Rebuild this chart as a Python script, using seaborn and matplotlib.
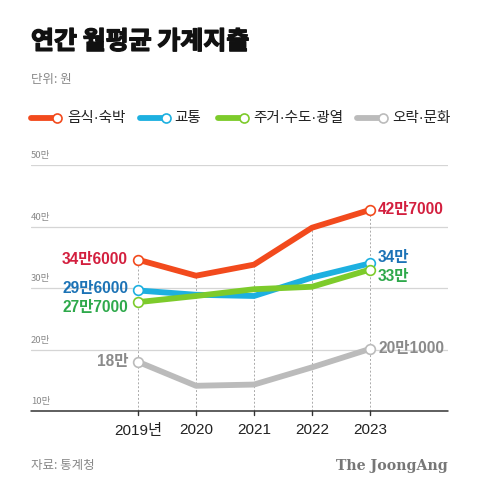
import matplotlib
matplotlib.use("Agg")
import matplotlib.pyplot as plt
from matplotlib.lines import Line2D
import matplotlib.patheffects as pe
import seaborn as sns
import pandas as pd

years = [2019, 2020, 2021, 2022, 2023]
year_labels = ["2019년", "2020", "2021", "2022", "2023"]
series_names = ["음식·숙박", "교통", "주거·수도·광열", "오락·문화"]
food = [34.6, 32.0, 33.8, 39.8, 42.7]
transport = [29.6, 28.9, 28.7, 31.7, 34.0]
housing = [27.7, 28.7, 29.8, 30.2, 33.0]
culture = [18.0, 14.1, 14.3, 17.1, 20.1]
start_labels = ["34만6000", "29만6000", "27만7000", "18만"]
end_labels = ["42만7000", "34만", "33만", "20만1000"]
ytick_vals = [10, 20, 30, 40, 50]
ytick_labels = ["10만", "20만", "30만", "40만", "50만"]

line_colors = ["#F24A1D", "#1DB0E0", "#7DCB2B", "#BBBBBB"]
text_colors = ["#D31F3E", "#1C73B6", "#2EA94B", "#8A8A8A"]

sns.set_theme(style="white")
plt.rcParams["font.family"] = ["Liberation Sans", "Noto Sans CJK KR", "DejaVu Sans"]
KR = ["Noto Sans CJK KR", "DejaVu Sans"]

values = [food, transport, housing, culture]
rows = []
for name, vals in zip(series_names, values):
    for y, v in zip(years, vals):
        rows.append({"year": y, "value": v, "series": name})
df = pd.DataFrame(rows)

fig = plt.figure(figsize=(4.8, 4.96), dpi=100)
W, H = 480, 496
ax = fig.add_axes([31 / W, (H - 411) / H, (448 - 31) / W, (411 - 165) / H])
ax.set_xlim(2019 - 107 / 58, 2023 + 78 / 58)
ax.set_ylim(10, 50)

# grid lines
for v in ytick_vals[1:]:
    ax.axhline(v, color="#D5D5D5", lw=0.9, zorder=0)
ax.axhline(10, color="#333333", lw=1.1, zorder=3, clip_on=False)
for v, lab in zip(ytick_vals, ytick_labels):
    ax.text(2019 - 107 / 58, v + 0.8, lab, fontsize=6.8, color="#888888",
            ha="left", va="bottom", family=KR)

# vertical dashed guides up to top series
for x, top in zip(years, food):
    ax.plot([x, x], [10, top], color="#AAAAAA", lw=0.7, ls=(0, (2, 2)), zorder=1)
    ax.plot([x, x], [10, 9.3], color="#333333", lw=1.0, clip_on=False, zorder=3)

sns.lineplot(data=df, x="year", y="value", hue="series", hue_order=series_names,
             palette=line_colors, linewidth=4.2, legend=False, ax=ax, zorder=4)

start_dy = [0, 0.4, -0.85, 0]
end_dy = [0, 0.9, -1.1, 0]
for i, vals in enumerate(values):
    ax.plot([years[0], years[-1]], [vals[0], vals[-1]], ls="none", marker="o",
            ms=7, mfc="white", mec=line_colors[i], mew=1.2, zorder=6, clip_on=False)
    ax.text(years[0] - 0.17, vals[0] + start_dy[i], start_labels[i], ha="right",
            va="center", fontsize=11.2, fontweight="bold", color=text_colors[i], zorder=7)
    ax.text(years[-1] + 0.14, vals[-1] + end_dy[i], end_labels[i], ha="left",
            va="center", fontsize=11.2, fontweight="bold", color=text_colors[i], zorder=7)

ax.set_xticks(years)
ax.set_xticklabels(year_labels, fontsize=11, color="#222222")
ax.tick_params(axis="x", length=0, pad=9)
ax.set_yticks([])
ax.set_xlabel("")
ax.set_ylabel("")
for s in ax.spines.values():
    s.set_visible(False)

# title & subtitle
fig.text(31 / W, 1 - 42 / H, "연간 월평균 가계지출", fontsize=18, fontweight="bold",
         color="#111111", ha="left", va="center", family=KR,
         path_effects=[pe.withStroke(linewidth=1.0, foreground="#111111")])
fig.text(31 / W, 1 - 80 / H, "단위: 원", fontsize=9, color="#888888",
         ha="left", va="center", family=KR)

# legend
leg_y = 1 - 118 / H
leg_items = [(31, 67), (140, 174), (218, 253), (357, 392)]
for (x0, tx), name, c in zip(leg_items, series_names, line_colors):
    fig.add_artist(Line2D([x0 / W, (x0 + 24) / W], [leg_y, leg_y], color=c, lw=4.2,
                          transform=fig.transFigure, solid_capstyle="round"))
    fig.add_artist(Line2D([(x0 + 26) / W], [leg_y], ls="none", marker="o", ms=6.5,
                          mfc="white", mec=c, mew=1.2, transform=fig.transFigure))
    fig.text(tx / W, leg_y, name, fontsize=10.5, color="#222222", ha="left",
             va="center", fontweight="medium")

# footer
fig.text(31 / W, 1 - 466 / H, "자료: 통계청", fontsize=9, color="#888888",
         ha="left", va="center", family=KR)
fig.text(448 / W, 1 - 466 / H, "The JoongAng", fontsize=10.2, fontweight="bold",
         family=["DejaVu Serif"], color="#777777", ha="right", va="center")

fig.savefig("out.png", dpi=100, facecolor="white")
